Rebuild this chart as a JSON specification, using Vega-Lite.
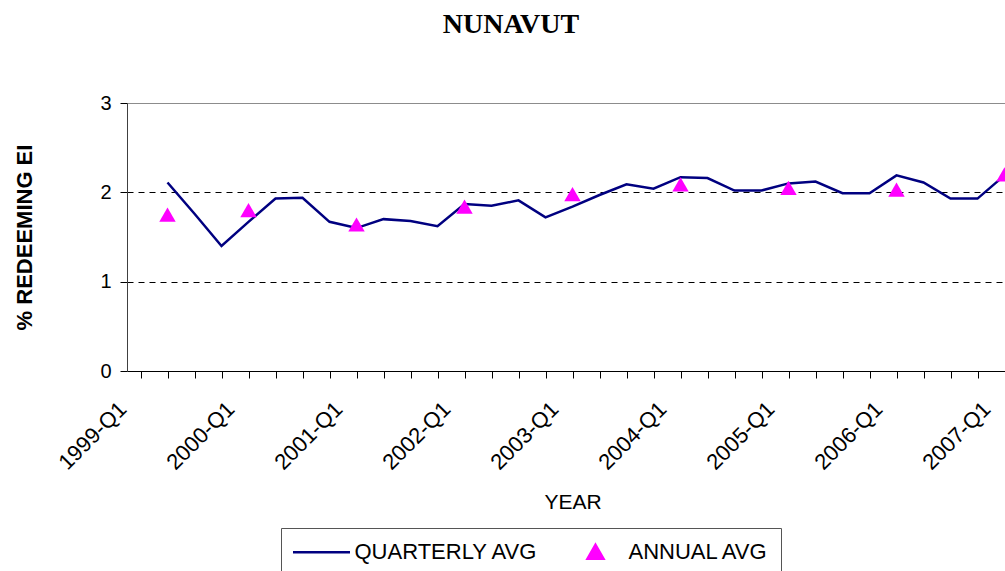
{
  "$schema": "https://vega.github.io/schema/vega-lite/v6.json",
  "width": 878,
  "height": 268,
  "autosize": {"type": "none"},
  "padding": {"left": 127, "top": 103, "right": 0, "bottom": 200},
  "background": "white",
  "config": {"view": {"stroke": "#8c8c8c", "strokeWidth": 1}, "font": "Liberation Sans"},
  "title": {"text": "NUNAVUT", "font": "Liberation Serif", "fontSize": 28, "fontWeight": "bold", "color": "black", "anchor": "middle", "dx": -55, "offset": 32, "baseline": "alphabetic"},
  "data": {"values": [
    {"quarter": "1999-Q2", "value": 2.11, "series": "QUARTERLY AVG"},
    {"quarter": "1999-Q3", "value": 1.76, "series": "QUARTERLY AVG"},
    {"quarter": "1999-Q4", "value": 1.40, "series": "QUARTERLY AVG"},
    {"quarter": "2000-Q1", "value": 1.67, "series": "QUARTERLY AVG"},
    {"quarter": "2000-Q2", "value": 1.93, "series": "QUARTERLY AVG"},
    {"quarter": "2000-Q3", "value": 1.94, "series": "QUARTERLY AVG"},
    {"quarter": "2000-Q4", "value": 1.67, "series": "QUARTERLY AVG"},
    {"quarter": "2001-Q1", "value": 1.60, "series": "QUARTERLY AVG"},
    {"quarter": "2001-Q2", "value": 1.70, "series": "QUARTERLY AVG"},
    {"quarter": "2001-Q3", "value": 1.68, "series": "QUARTERLY AVG"},
    {"quarter": "2001-Q4", "value": 1.62, "series": "QUARTERLY AVG"},
    {"quarter": "2002-Q1", "value": 1.87, "series": "QUARTERLY AVG"},
    {"quarter": "2002-Q2", "value": 1.85, "series": "QUARTERLY AVG"},
    {"quarter": "2002-Q3", "value": 1.91, "series": "QUARTERLY AVG"},
    {"quarter": "2002-Q4", "value": 1.72, "series": "QUARTERLY AVG"},
    {"quarter": "2003-Q1", "value": 1.84, "series": "QUARTERLY AVG"},
    {"quarter": "2003-Q2", "value": 1.97, "series": "QUARTERLY AVG"},
    {"quarter": "2003-Q3", "value": 2.09, "series": "QUARTERLY AVG"},
    {"quarter": "2003-Q4", "value": 2.04, "series": "QUARTERLY AVG"},
    {"quarter": "2004-Q1", "value": 2.17, "series": "QUARTERLY AVG"},
    {"quarter": "2004-Q2", "value": 2.16, "series": "QUARTERLY AVG"},
    {"quarter": "2004-Q3", "value": 2.02, "series": "QUARTERLY AVG"},
    {"quarter": "2004-Q4", "value": 2.02, "series": "QUARTERLY AVG"},
    {"quarter": "2005-Q1", "value": 2.10, "series": "QUARTERLY AVG"},
    {"quarter": "2005-Q2", "value": 2.12, "series": "QUARTERLY AVG"},
    {"quarter": "2005-Q3", "value": 1.99, "series": "QUARTERLY AVG"},
    {"quarter": "2005-Q4", "value": 1.99, "series": "QUARTERLY AVG"},
    {"quarter": "2006-Q1", "value": 2.19, "series": "QUARTERLY AVG"},
    {"quarter": "2006-Q2", "value": 2.11, "series": "QUARTERLY AVG"},
    {"quarter": "2006-Q3", "value": 1.93, "series": "QUARTERLY AVG"},
    {"quarter": "2006-Q4", "value": 1.93, "series": "QUARTERLY AVG"},
    {"quarter": "2007-Q1", "value": 2.19, "series": "QUARTERLY AVG"},
    {"quarter": "1999-Q2", "value": 1.75, "series": "ANNUAL AVG"},
    {"quarter": "2000-Q1", "value": 1.80, "series": "ANNUAL AVG"},
    {"quarter": "2001-Q1", "value": 1.64, "series": "ANNUAL AVG"},
    {"quarter": "2002-Q1", "value": 1.84, "series": "ANNUAL AVG"},
    {"quarter": "2003-Q1", "value": 1.98, "series": "ANNUAL AVG"},
    {"quarter": "2004-Q1", "value": 2.09, "series": "ANNUAL AVG"},
    {"quarter": "2005-Q1", "value": 2.05, "series": "ANNUAL AVG"},
    {"quarter": "2006-Q1", "value": 2.03, "series": "ANNUAL AVG"},
    {"quarter": "2007-Q1", "value": 2.20, "series": "ANNUAL AVG"}
  ]},
  "encoding": {
    "x": {
      "field": "quarter", "type": "nominal", "title": "YEAR",
      "scale": {"domain": ["1999-Q1","1999-Q2","1999-Q3","1999-Q4","2000-Q1","2000-Q2","2000-Q3","2000-Q4","2001-Q1","2001-Q2","2001-Q3","2001-Q4","2002-Q1","2002-Q2","2002-Q3","2002-Q4","2003-Q1","2003-Q2","2003-Q3","2003-Q4","2004-Q1","2004-Q2","2004-Q3","2004-Q4","2005-Q1","2005-Q2","2005-Q3","2005-Q4","2006-Q1","2006-Q2","2006-Q3","2006-Q4","2007-Q1"], "range": [0, 891], "paddingInner": 0, "paddingOuter": 0},
      "axis": {"bandPosition": 0, "tickSize": 7, "tickColor": "black", "domainColor": "black", "domainWidth": 1, "labelAngle": -45, "labelAlign": "right", "labelBaseline": "alphabetic", "labelPadding": 32, "labelOffset": -13, "labelFont": "Liberation Sans", "labelFontSize": 22, "labelColor": "black", "labelOverlap": false, "labelBound": false, "labelFlush": false, "labelLimit": 0, "labelExpr": "indexof(datum.value, 'Q1') >= 0 ? datum.value : ''", "grid": false, "titleFont": "Liberation Sans", "titleFontSize": 21, "titleFontWeight": "normal", "titleColor": "black", "titleX": 445.5, "titleY": 137, "titleBaseline": "alphabetic", "titleAlign": "center"}
    },
    "y": {
      "field": "value", "type": "quantitative", "title": "% REDEEMING EI",
      "scale": {"domain": [0, 3], "nice": false},
      "axis": {"values": [0, 1, 2, 3], "tickSize": 7, "tickColor": "black", "domainColor": "#404040", "labelFont": "Liberation Sans", "labelFontSize": 20, "labelPadding": 9, "labelColor": "black", "grid": true, "gridColor": "black", "gridDash": [6, 5], "gridOpacity": {"condition": {"test": "datum.value === 1 || datum.value === 2", "value": 1}, "value": 0}, "titleFont": "Liberation Sans", "titleFontSize": 22, "titleFontWeight": "bold", "titleColor": "black", "titleAngle": 270, "titleX": -96, "titleY": 134, "titleBaseline": "alphabetic", "titleAlign": "center"}
    },
    "color": {
      "field": "series", "type": "nominal",
      "scale": {"domain": ["QUARTERLY AVG", "ANNUAL AVG"], "range": ["#000080", "#FF00FF"]},
      "legend": {
        "orient": "none", "legendX": 154, "legendY": 425, "direction": "horizontal", "title": null,
        "strokeColor": "#555555", "fillColor": "white", "padding": 12,
        "symbolSize": 400, "symbolStrokeWidth": 2.5, "symbolOffset": 17, "labelOffset": 21.5, "columnPadding": 29,
        "labelFont": "Liberation Sans", "labelFontSize": 22, "labelColor": "black", "labelLimit": 0,
        "encode": {"symbols": {"update": {
          "shape": {"signal": "datum.value === 'ANNUAL AVG' ? 'M0,-0.7L0.8,0.7L-0.8,0.7Z' : 'M-2.85,0H2.85'"},
          "fill": {"signal": "datum.value === 'ANNUAL AVG' ? '#FF00FF' : 'transparent'"},
          "stroke": {"signal": "datum.value === 'ANNUAL AVG' ? 'transparent' : '#000080'"},
          "strokeWidth": {"value": 2.5},
          "opacity": {"value": 1}
        }}}
      }
    }
  },
  "layer": [
    {"transform": [{"filter": "datum.series === 'QUARTERLY AVG'"}], "mark": {"type": "line", "strokeWidth": 2.5}},
    {"transform": [{"filter": "datum.series === 'ANNUAL AVG'"}], "mark": {"type": "point", "shape": "triangle-up", "filled": true, "size": 270, "opacity": 1}}
  ]
}
